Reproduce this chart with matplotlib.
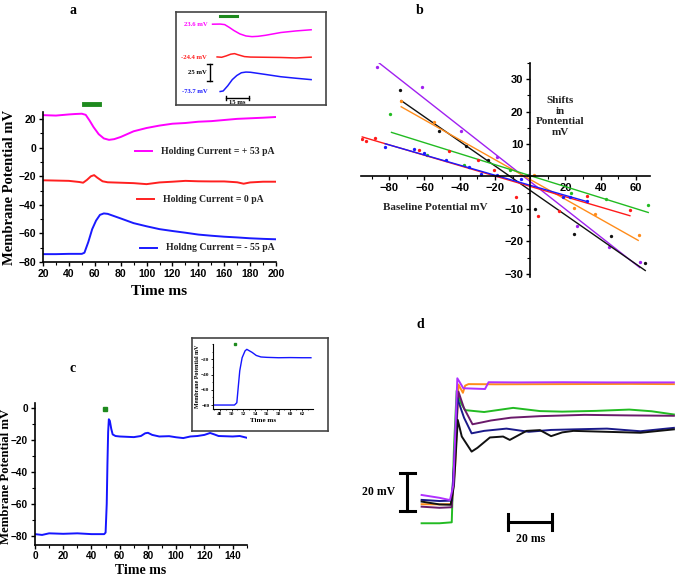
import matplotlib.pyplot as plt
from matplotlib.ticker import MultipleLocator

SERIF = 'Liberation Serif'
SANS = 'Liberation Sans'
plt.rcParams['font.family'] = SANS
plt.rcParams['font.weight'] = 'bold'

# ---- panel a: responses at three holding currents (ms, mV)
mag_t = [20, 30, 40, 45, 50, 53, 56, 59, 63, 67, 71, 75, 80, 90, 100, 110, 120, 130, 140, 150, 160, 170, 180, 190, 200]
mag_v = [22.8, 22.5, 23.3, 23.6, 23.8, 23, 19, 14.5, 9.5, 6.5, 5.5, 6, 7.5, 11.5, 13.8, 15.5, 16.8, 17.3, 18.2, 18.6, 19.4, 20.2, 20.6, 21, 21.5]
red_t = [20, 30, 40, 48, 51, 54, 57, 59.5, 62, 66, 70, 80, 90, 100, 110, 120, 130, 140, 150, 160, 170, 175, 180, 190, 200]
red_v = [-22.8, -23, -23.2, -24, -24.5, -22.5, -20, -19.2, -21, -23.5, -24.2, -24.5, -24.8, -25.5, -24.3, -23.8, -23.2, -23.5, -23.6, -23.6, -24.2, -25.2, -24.3, -23.8, -23.8]
blue_t = [20, 30, 40, 50, 52, 55, 58, 61, 64, 67, 70, 80, 90, 100, 110, 120, 130, 140, 150, 160, 170, 180, 190, 200]
blue_v = [-74.5, -74.5, -74.3, -74.3, -73.5, -66, -57, -51, -47, -46, -46.3, -49.5, -52.8, -55, -57, -58.3, -59.5, -60.8, -61.6, -62.3, -62.8, -63.4, -63.8, -64.1]
a_labels = ['Holding Current = + 53 pA', 'Holding Current = 0 pA', 'Holdng Current = - 55 pA']
inset_a_labels = ['23.6 mV', '-24.4 mV', '-73.7 mV']
inset_a_base = [23.6, -24.4, -73.7]

# ---- panel b: shift vs baseline potential
pur_x = [-87, -61.3, -39.3, -18.7, -1.5, 26.3, 44.6, 62.2]
pur_y = [33.9, 27.5, 14.1, 6.0, 0.6, -15.2, -21.9, -26.4]
pur_fx, pur_fy = [-85.7, 62.2], [35, -28.1]
blk_x = [-73.6, -51.8, -36.5, -23.8, 2.6, 25, 45.6, 65.3]
blk_y = [26.6, 14.1, 9.3, 5.0, -9.9, -17.6, -18.5, -26.8]
blk_fx, blk_fy = [-73.2, 65.3], [23.4, -29]
org_x = [-73.2, -54.7, 2.1, 24.8, 36.7, 61.9]
org_y = [23.4, 16.7, 0.6, -9.7, -11.7, -18]
org_fx, org_fy = [-73.2, 61.3], [21.5, -19.7]
grn_x = [-79.6, -58.8, -37.5, -11.5, 23.1, 43.3, 67]
grn_y = [19.2, 6.7, 3.6, 1.9, -5.2, -6.9, -8.8]
grn_fx, grn_fy = [-78.7, 67], [13.6, -11.1]
rd_x = [-95.3, -93.3, -88.3, -63.2, -46, -29.5, -20.6, -8.1, 4.7, 16.6, 32, 56.6]
rd_y = [11.7, 10.9, 12.0, 8.1, 7.9, 5.2, 2.1, -6.4, -12.1, -10.6, -5.9, -10.3]
rd_fx, rd_fy = [-95.3, 56.6], [12.2, -12.1]
bl_x = [-82.3, -66, -60.3, -47.9, -34.6, -28, -19.1, -5.3, 18.4, 22.5, 32]
bl_y = [9.1, 8.6, 7.3, 5.0, 2.9, 0.8, 0.5, -0.8, -6.4, -6.4, -7.7]
bl_fx, bl_fy = [-82.3, 32], [10.1, -7.7]

# ---- panel c
c_t = [0, 5, 10, 20, 30, 40, 49, 50, 50.8, 51.3, 51.8, 52.3, 53, 54, 55, 57, 60, 65, 70, 75, 78, 80, 83, 88, 95,
       100, 105, 110, 115, 120, 124, 127, 130, 140, 145, 150]
c_v = [-79, -79.5, -78.5, -78.8, -78.5, -79, -79, -78, -60, -35, -15, -7, -8, -13, -16.5, -17.5, -17.8, -18, -18.2,
       -17.5, -15.8, -15.5, -16.8, -17.8, -17.6, -18.3, -18.8, -17.8, -17.5, -16.8, -15.6, -16.5, -17.5, -17.8, -17.5, -18.6]
ci_t = [46.8, 48, 49, 50.5, 50.9, 51.1, 51.4, 51.8, 52.3, 52.6, 53.5, 54.2, 55, 56, 58, 60, 62, 63.5]
ci_v = [-80, -80, -80, -80, -77, -60, -35, -18, -9, -7, -11, -15, -17, -17.5, -18, -17.8, -18, -18]

# ---- panel d: superimposed traces (ms, mV)
d_pur_t = [-3, 5, 9.7, 11.2, 13, 15.7, 25.4, 27, 40, 60, 80, 110]
d_pur_v = [-65, -66.5, -67.7, -60, -3.1, -8.4, -8.8, -5.2, -5.3, -5.2, -5.3, -5.3]
d_org_t = [-3, 5, 10.5, 12, 13.5, 15.5, 16.5, 18, 30, 60, 90, 110]
d_org_v = [-69.9, -70, -69.8, -50, -6.4, -10.8, -7, -6.2, -6.3, -6.2, -6.1, -6.2]
d_grn_t = [-3, 5, 10.5, 11.5, 12.7, 14.5, 16.5, 25, 38, 50, 60, 75, 90, 100, 110]
d_grn_v = [-80, -80, -79.5, -40, -9.7, -16, -20, -21, -18.8, -20.5, -20.8, -20.4, -19.7, -20.6, -22.3]
d_dp_t = [-3, 5, 10.5, 12, 13.5, 16, 19.8, 24, 28, 37, 50, 70, 90, 110]
d_dp_v = [-71.2, -71.8, -71.5, -40, -10.2, -19, -27.5, -26.5, -25.5, -24, -23.2, -22.5, -22.8, -23]
d_nv_t = [-3, 5, 10.5, 12, 13, 16, 19.4, 25, 35, 45, 55, 65, 80, 95, 110]
d_nv_v = [-67.6, -68.2, -68, -40, -13.7, -24, -32.3, -31, -29.8, -31.5, -30.5, -30.2, -29.8, -31.2, -29.4]
d_blk_t = [-3, 5, 10, 11.5, 13.2, 15, 19.4, 22, 27.6, 33.5, 36.5, 44, 50, 55, 60, 65, 80, 95, 110]
d_blk_v = [-68.5, -70, -70.2, -60, -25.2, -34, -42, -40, -34.5, -34, -35.8, -31, -30.6, -33.8, -31.8, -31, -31.5, -32, -30.2]

fig = plt.figure(figsize=(6.75, 5.77), dpi=100)


def style_axis(ax, fs):
    ax.spines['top'].set_visible(False)
    ax.spines['right'].set_visible(False)
    ax.tick_params(direction='out', length=3, width=1, labelsize=fs, pad=2)
    ax.tick_params(which='minor', direction='out', length=2, width=0.8)
    for s in ax.spines.values():
        s.set_linewidth(1.2)


def px_axes(x0, y0, x1, y1):
    # pixel box (top-left origin) -> figure axes
    return fig.add_axes([x0 / 675, (577 - y1) / 577, (x1 - x0) / 675, (y1 - y0) / 577])


# ---------------- panel a
ax = px_axes(43, 112, 276, 262)
ax.plot(mag_t, mag_v, color='#ff00ff', lw=1.4)
ax.plot(red_t, red_v, color='#ff2020', lw=1.4)
ax.plot(blue_t, blue_v, color='#1a1aff', lw=1.4)
ax.set_xlim(20, 200)
ax.set_ylim(-80, 25)
ax.xaxis.set_major_locator(MultipleLocator(20))
ax.xaxis.set_minor_locator(MultipleLocator(10))
ax.yaxis.set_major_locator(MultipleLocator(20))
ax.yaxis.set_minor_locator(MultipleLocator(10))
style_axis(ax, 7.5)
ax.set_xlabel('Time ms', family=SERIF, fontsize=11, fontweight='bold')
ax.xaxis.set_label_coords(0.5, -(285 - 262) / 150)
ax.set_ylabel('Membrane Potential mV', family=SERIF, fontsize=10.5, fontweight='bold')
ax.yaxis.set_label_coords(-(43 - 16) / 233, 0.5)
ax.plot([52, 63.5], [30.5, 30.5], color='#1e8a1e', lw=3.5, clip_on=False)
for yy, col, lab, x0 in zip([-2.4, -36, -70], ['#ff00ff', '#ff2020', '#1a1aff'], a_labels, [91, 92.5, 95]):
    ax.plot([x0, x0 + 13], [yy, yy], color=col, lw=1.4)
    ax.text(x0 + 20, yy, lab, family=SERIF, fontsize=7, fontweight='bold', va='center', color='#222222')
fig.text(73 / 675, 1 - 10 / 577, 'a', family=SERIF, fontsize=10, fontweight='bold', ha='center', va='center')

# inset a
ia = px_axes(175.7, 12.3, 325.7, 105)
ia.set_xlim(20.7, 119.6)
ia.set_ylim(-93.9, 40.9)
ia.set_xticks([])
ia.set_yticks([])
for s in ia.spines.values():
    s.set_linewidth(1.2)
    s.set_color('#444444')
for tt, vv, col in [(mag_t, mag_v, '#ff00ff'), (red_t, red_v, '#ff2020'), (blue_t, blue_v, '#1a1aff')]:
    sel = [(t, v) for t, v in zip(tt, vv) if 43 <= t <= 117]
    ia.plot([p[0] for p in sel], [p[1] for p in sel], color=col, lw=1.1)
for lab, base, col in zip(inset_a_labels, inset_a_base, ['#ff00ff', '#ff2020', '#1a1aff']):
    ia.text(41.5, base, lab, family=SERIF, fontsize=4.8, fontweight='bold', color=col, ha='right', va='center')
ia.plot([50, 61], [36, 36], color='#1e8a1e', lw=2.2)
ia.plot([43, 43], [-34.1, -59.2], color='black', lw=1)
ia.plot([41.5, 44.5], [-34.1, -34.1], color='black', lw=1)
ia.plot([41.5, 44.5], [-59.2, -59.2], color='black', lw=1)
ia.text(41, -46.6, '25 mV', family=SERIF, fontsize=4.8, fontweight='bold', ha='right', va='center')
ia.plot([53.8, 68.8], [-83.4, -83.4], color='black', lw=1)
ia.plot([53.8, 53.8], [-80.5, -86.3], color='black', lw=1)
ia.plot([68.8, 68.8], [-80.5, -86.3], color='black', lw=1)
ia.text(61.3, -90, '15 ms', family=SERIF, fontsize=4.8, fontweight='bold', ha='center', va='center')

# ---------------- panel b
bx = px_axes(361, 63, 650, 277)
bx.set_xlim(-96, 68)
bx.set_ylim(-31, 35)
for xs, ys, fx, fy, col in [(pur_x, pur_y, pur_fx, pur_fy, '#a020f0'),
                            (blk_x, blk_y, blk_fx, blk_fy, '#111111'),
                            (org_x, org_y, org_fx, org_fy, '#ff8c1a'),
                            (grn_x, grn_y, grn_fx, grn_fy, '#22bb22'),
                            (rd_x, rd_y, rd_fx, rd_fy, '#ff1a1a'),
                            (bl_x, bl_y, bl_fx, bl_fy, '#1a1aff')]:
    bx.plot(fx, fy, color=col, lw=1)
    bx.plot(xs, ys, 'o', color=col, ms=2.4, mew=0)
bx.spines['left'].set_position(('data', 0))
bx.spines['bottom'].set_position(('data', 0))
bx.xaxis.set_major_locator(MultipleLocator(20))
bx.xaxis.set_minor_locator(MultipleLocator(10))
bx.yaxis.set_major_locator(MultipleLocator(10))
bx.yaxis.set_minor_locator(MultipleLocator(5))
style_axis(bx, 8)
bx.set_xticks([-80, -60, -40, -20, 20, 40, 60])
bx.set_yticks([-30, -20, -10, 10, 20, 30])
bx.text(-54, -9.5, 'Baseline Potential mV', family=SERIF, fontsize=8, fontweight='bold', ha='center', va='center', color='#222222')
bx.text(17, 18.5, 'Shifts\nin\nPontential\nmV', family=SERIF, fontsize=8, fontweight='bold', ha='center', va='center',
        color='#222222', linespacing=1.2)
fig.text(420 / 675, 1 - 10 / 577, 'b', family=SERIF, fontsize=10, fontweight='bold', ha='center', va='center')

# ---------------- panel c
cx = px_axes(35, 403.3, 246.8, 544.5)
cx.plot(c_t, c_v, color='#1515ff', lw=1.4)
cx.plot([49.6], [-0.5], 's', color='#1e8a1e', ms=3, clip_on=False)
cx.set_xlim(0, 150)
cx.set_ylim(-85.5, 3)
cx.xaxis.set_major_locator(MultipleLocator(20))
cx.xaxis.set_minor_locator(MultipleLocator(10))
cx.yaxis.set_major_locator(MultipleLocator(20))
cx.yaxis.set_minor_locator(MultipleLocator(10))
style_axis(cx, 7.2)
cx.set_xlabel('Time ms', family=SERIF, fontsize=10, fontweight='bold')
cx.xaxis.set_label_coords(0.5, -(564 - 544.5) / 141.2)
cx.set_ylabel('Membrane Potential mV', family=SERIF, fontsize=9.2, fontweight='bold')
cx.yaxis.set_label_coords(-(35 - 12.5) / 211.8, 0.48)
fig.text(73 / 675, 1 - 368 / 577, 'c', family=SERIF, fontsize=10, fontweight='bold', ha='center', va='center')

# inset c
box = px_axes(192, 338, 328, 431)
box.set_xticks([])
box.set_yticks([])
for s in box.spines.values():
    s.set_linewidth(1.2)
    s.set_color('#444444')
ic = px_axes(213, 344, 312.7, 409)
ic.plot(ci_t, ci_v, color='#1515ff', lw=1)
ic.plot([50.6], [0.5], 's', color='#1e8a1e', ms=2, clip_on=False)
ic.set_xlim(46.85, 63.8)
ic.set_ylim(-85.2, 0)
ic.set_xticks(range(48, 63, 2))
ic.set_yticks([-80, -60, -40, -20])
ic.xaxis.set_minor_locator(MultipleLocator(1))
ic.yaxis.set_minor_locator(MultipleLocator(10))
ic.spines['top'].set_visible(False)
ic.spines['right'].set_visible(False)
ic.tick_params(direction='out', length=1.5, width=0.6, labelsize=3.8, pad=1)
ic.tick_params(which='minor', length=1, width=0.5)
for lab in ic.get_xticklabels() + ic.get_yticklabels():
    lab.set_family(SERIF)
ic.set_xlabel('Time ms', family=SERIF, fontsize=5, fontweight='bold', labelpad=1)
ic.set_ylabel('Membrane Potential mV', family=SERIF, fontsize=4.3, fontweight='bold', labelpad=1)

# ---------------- panel d
dx = px_axes(350, 330, 675, 577)
dx.set_xlim(-35.07, 110.5)
dx.set_ylim(-108.5, 22.5)
dx.axis('off')
for tt, vv, col in [(d_grn_t, d_grn_v, '#22bb22'), (d_org_t, d_org_v, '#ff8c1a'), (d_dp_t, d_dp_v, '#6a1a6a'),
                    (d_nv_t, d_nv_v, '#1a1a8a'), (d_blk_t, d_blk_v, '#111111'), (d_pur_t, d_pur_v, '#b030ff')]:
    dx.plot(tt, vv, color=col, lw=1.4)
dx.plot([-9.4, -9.4], [-73.5, -53.5], color='black', lw=2.2)
dx.plot([-12.7, -6.1], [-73.5, -73.5], color='black', lw=2.2)
dx.plot([-12.7, -6.1], [-53.5, -53.5], color='black', lw=2.2)
dx.text(-14.9, -63.6, '20 mV', family=SERIF, fontsize=8.5, fontweight='bold', ha='right', va='center')
dx.plot([35.6, 55.6], [-79.5, -79.5], color='black', lw=2.2)
dx.plot([35.6, 35.6], [-75.3, -83.7], color='black', lw=2.2)
dx.plot([55.6, 55.6], [-75.3, -83.7], color='black', lw=2.2)
dx.text(45.6, -88.5, '20 ms', family=SERIF, fontsize=8.5, fontweight='bold', ha='center', va='center')
fig.text(420 / 675, 1 - 325 / 577, 'd', family=SERIF, fontsize=10, fontweight='bold', ha='center', va='center')

fig.savefig('out.png', dpi=100)
